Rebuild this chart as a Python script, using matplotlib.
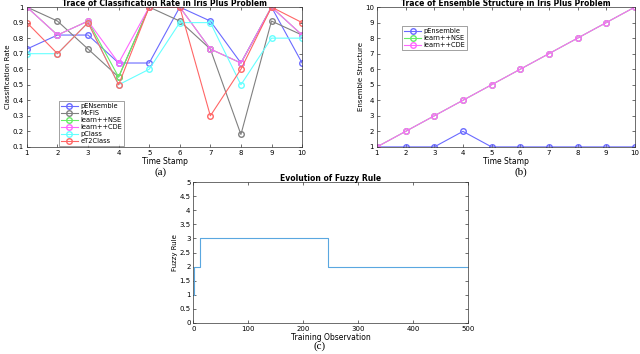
import matplotlib
matplotlib.use("Agg")
import matplotlib.pyplot as plt
import numpy as np

# ---- data ----
time_stamp = [1, 2, 3, 4, 5, 6, 7, 8, 9, 10]
rate_pensemble = [0.73, 0.82, 0.82, 0.64, 0.64, 1.0, 0.91, 0.64, 1.0, 0.64]
rate_mcfis = [1.0, 0.91, 0.73, 0.55, 1.0, 0.91, 0.73, 0.18, 0.91, 0.82]
rate_nse = [1.0, 0.82, 0.91, 0.55, 1.0, 1.0, 0.73, 0.64, 1.0, 0.82]
rate_cde = [1.0, 0.82, 0.91, 0.64, 1.0, 1.0, 0.73, 0.64, 1.0, 0.82]
rate_pclass = [0.7, 0.7, 0.9, 0.5, 0.6, 0.9, 0.9, 0.5, 0.8, 0.8]
rate_et2class = [0.9, 0.7, 0.9, 0.5, 1.0, 1.0, 0.3, 0.6, 1.0, 0.9]

struct_pensemble = [1, 1, 1, 2, 1, 1, 1, 1, 1, 1]
struct_nse = [1, 2, 3, 4, 5, 6, 7, 8, 9, 10]
struct_cde = [1, 2, 3, 4, 5, 6, 7, 8, 9, 10]

rule_obs = [0, 2, 2, 12, 12, 246, 246, 500]
rule_val = [1, 1, 2, 2, 3, 3, 2, 2]

c_blue = "#6a6aff"
c_gray = "#808080"
c_green = "#66ee66"
c_mag = "#ff66ff"
c_cyan = "#66ffff"
c_red = "#ff6666"

fig = plt.figure(figsize=(6.4, 3.54), dpi=100)
fs = 5.0

def style(ax):
    ax.tick_params(direction="in", top=True, right=True, labelsize=fs, length=2, width=0.4, pad=2)
    for s in ax.spines.values():
        s.set_linewidth(0.5)
        s.set_color("#333333")

# (a)
axa = fig.add_axes([0.042, 0.585, 0.430, 0.395])
mk = dict(marker="o", markersize=4, markerfacecolor="none", linewidth=0.8)
axa.plot(time_stamp, rate_pensemble, color=c_blue, label="pENsemble", **mk)
axa.plot(time_stamp, rate_mcfis, color=c_gray, label="McFIS", **mk)
axa.plot(time_stamp, rate_nse, color=c_green, label="learn++NSE", **mk)
axa.plot(time_stamp, rate_cde, color=c_mag, label="learn++CDE", **mk)
axa.plot(time_stamp, rate_pclass, color=c_cyan, label="pClass", **mk)
axa.plot(time_stamp, rate_et2class, color=c_red, label="eT2Class", **mk)
axa.set_xlim(1, 10)
axa.set_ylim(0.1, 1.0)
axa.set_xticks(time_stamp)
axa.set_yticks(np.arange(0.1, 1.01, 0.1))
axa.set_yticklabels(["0.1", "0.2", "0.3", "0.4", "0.5", "0.6", "0.7", "0.8", "0.9", "1"])
axa.set_xlabel("Time Stamp", fontsize=5.5, labelpad=1)
axa.set_ylabel("Classification Rate", fontsize=5, labelpad=1)
axa.set_title("Trace of Classification Rate in Iris Plus Problem", fontsize=5.5, fontweight="bold", pad=1)
style(axa)
leg = axa.legend(loc="upper left", bbox_to_anchor=(0.105, 0.35), fontsize=4.8, frameon=True,
                 fancybox=False, handlelength=2.5, borderpad=0.3, labelspacing=0.15, handletextpad=0.4)
leg.get_frame().set_linewidth(0.4)
leg.get_frame().set_edgecolor("#333333")

# (b)
axb = fig.add_axes([0.589, 0.585, 0.403, 0.395])
axb.plot(time_stamp, struct_pensemble, color=c_blue, label="pEnsemble", **mk)
axb.plot(time_stamp, struct_nse, color=c_green, label="learn++NSE", **mk)
axb.plot(time_stamp, struct_cde, color=c_mag, label="learn++CDE", **mk)
axb.set_xlim(1, 10)
axb.set_ylim(1, 10)
axb.set_xticks(time_stamp)
axb.set_yticks(range(1, 11))
axb.set_xlabel("Time Stamp", fontsize=5.5, labelpad=1)
axb.set_ylabel("Ensemble Structure", fontsize=5, labelpad=1)
axb.set_title("Trace of Ensemble Structure in Iris Plus Problem", fontsize=5.5, fontweight="bold", pad=1)
style(axb)
legb = axb.legend(loc="upper left", bbox_to_anchor=(0.085, 0.886), fontsize=4.8, frameon=True,
                  fancybox=False, handlelength=2.5, borderpad=0.3, labelspacing=0.15, handletextpad=0.4)
legb.get_frame().set_linewidth(0.4)
legb.get_frame().set_edgecolor("#333333")

# (c)
axc = fig.add_axes([0.302, 0.0876, 0.429, 0.398])
axc.plot(rule_obs, rule_val, color="#5aa7e0", linewidth=0.8)
axc.set_xlim(0, 500)
axc.set_ylim(0, 5)
axc.set_xticks(range(0, 501, 100))
axc.set_yticks(np.arange(0, 5.01, 0.5))
axc.set_yticklabels(["0", "0.5", "1", "1.5", "2", "2.5", "3", "3.5", "4", "4.5", "5"])
axc.set_xlabel("Training Observation", fontsize=5.5, labelpad=1)
axc.set_ylabel("Fuzzy Rule", fontsize=5, labelpad=1)
axc.set_title("Evolution of Fuzzy Rule", fontsize=5.5, fontweight="bold", pad=1)
style(axc)

fig.text(161 / 640, 1 - 172 / 354, "(a)", fontsize=8, family="Liberation Serif", ha="center", va="center")
fig.text(521 / 640, 1 - 172 / 354, "(b)", fontsize=8, family="Liberation Serif", ha="center", va="center")
fig.text(320 / 640, 1 - 346 / 354, "(c)", fontsize=8, family="Liberation Serif", ha="center", va="center")

fig.savefig("out.png", dpi=100)
